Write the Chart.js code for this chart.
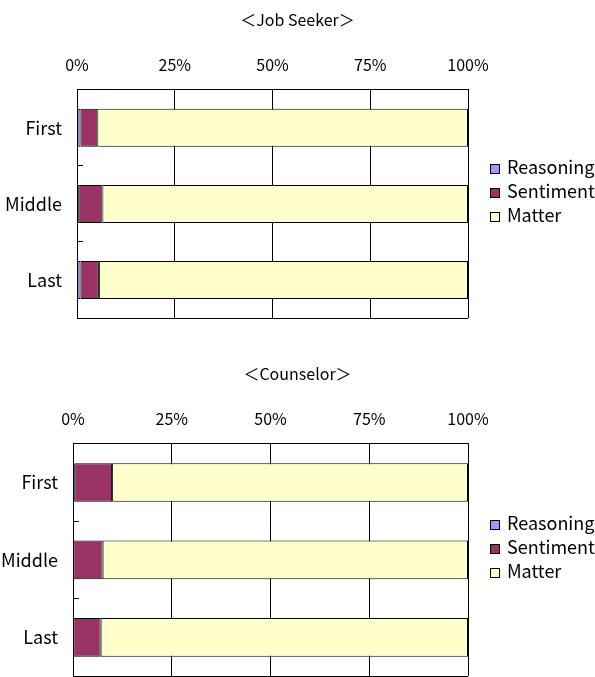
<!DOCTYPE html>
<html>
<head>
<meta charset="utf-8">
<script src="https://cdn.jsdelivr.net/npm/chart.js@4.4.1/dist/chart.umd.min.js"></script>
<style>
    html, body { margin: 0; padding: 0; background: #fff; overflow: hidden; width: 595px; height: 677px; }
    canvas { position: absolute; left: 0; }
    #seekerChart { top: 0; }
    #counselorChart { top: 354px; }
    .legend {
        position: absolute;
        left: 490px;
        font-family: "Noto Sans CJK JP", "Noto Sans", sans-serif;
        font-size: 18px;
        line-height: 24px;
        color: #000;
        white-space: nowrap;
    }
    .legend .box {
        display: inline-block;
        width: 10px;
        height: 10px;
        box-sizing: border-box;
        border: 1px solid #000;
        margin-right: 7px;
        vertical-align: 0px;
    }
    #seekerLegend { top: 154px; }
    #counselorLegend { top: 510px; }
</style>
</head>
<body>
<canvas id="seekerChart" width="595" height="340"></canvas>
<canvas id="counselorChart" width="595" height="336"></canvas>
<div class="legend" id="seekerLegend"></div>
<div class="legend" id="counselorLegend"></div>
<script>
// share of each utterance type (%) per interview stage
const categories = ['First', 'Middle', 'Last'];
const seriesNames = ['Reasoning', 'Sentiment', 'Matter'];
const seriesColors = ['#9999ff', '#993366', '#ffffcc'];

const seekerReasoning = [0.9, 0.3, 0.9];
const seekerSentiment = [4.3, 6.2, 4.7];
const seekerMatter = [94.8, 93.5, 94.4];

const counselorReasoning = [0.3, 0.1, 0.1];
const counselorSentiment = [9.6, 7.4, 6.9];
const counselorMatter = [90.1, 92.5, 93.0];

const percentTicks = [0, 25, 50, 75, 100];

const FONT = '"Noto Sans CJK JP", "Noto Sans", sans-serif';
Chart.defaults.font.family = FONT;
Chart.defaults.font.size = 16;
Chart.defaults.color = '#000';

// room on the right of the plot for the html legend
const LEGEND_ROOM = 127;

function makeChart(id, title, values, opts) {
    const datasets = seriesNames.map(function(name, i) {
        return {
            label: name,
            data: values[i],
            backgroundColor: seriesColors[i],
            borderColor: '#000',
            borderWidth: 1,
            borderSkipped: false,
            barPercentage: 0.5,
            categoryPercentage: 1.0
        };
    });

    return new Chart(document.getElementById(id), {
        type: 'bar',
        data: { labels: categories, datasets: datasets },
        options: {
            indexAxis: 'y',
            responsive: false,
            animation: false,
            layout: { padding: { left: 0, top: 0, right: 0, bottom: opts.bottomPad } },
            scales: {
                x: {
                    position: 'top',
                    stacked: true,
                    min: 0,
                    max: 100,
                    afterBuildTicks: function(scale) {
                        scale.ticks = percentTicks.map(function(v) { return { value: v }; });
                    },
                    ticks: {
                        padding: 15,
                        callback: function(v) { return v + '%'; }
                    },
                    grid: { color: '#000', drawTicks: false },
                    border: { color: '#000' }
                },
                y: {
                    stacked: true,
                    afterFit: function(scale) {
                        scale.width = opts.plotLeft;
                        scale.paddingTop = 0;
                        scale.paddingBottom = 0;
                    },
                    ticks: { padding: 21, font: { size: 18 } },
                    grid: {
                        offset: true,
                        tickLength: -6,
                        tickColor: '#000',
                        // only the outer edges are drawn across, inner ones stay as tick marks
                        color: function(ctx) {
                            return (ctx.type === 'tick' && ctx.index > 0) ? 'rgba(0,0,0,0)' : '#000';
                        }
                    },
                    border: { color: '#000' }
                },
                legendRoom: {
                    type: 'linear',
                    position: 'right',
                    display: true,
                    ticks: { display: false },
                    grid: { display: false },
                    border: { display: false },
                    afterFit: function(scale) { scale.width = LEGEND_ROOM; }
                }
            },
            plugins: {
                title: {
                    display: true,
                    text: title,
                    font: { size: 16, weight: 'normal' },
                    padding: { top: 10, bottom: 11.4 }
                },
                legend: { display: false },
                tooltip: { enabled: false }
            }
        }
    });
}

function htmlLegend(chart, id) {
    const items = Chart.defaults.plugins.legend.labels.generateLabels(chart);
    const box = document.getElementById(id);
    items.forEach(function(item) {
        const row = document.createElement('div');
        const swatch = document.createElement('span');
        swatch.className = 'box';
        swatch.style.background = item.fillStyle;
        row.appendChild(swatch);
        row.appendChild(document.createTextNode(item.text));
        box.appendChild(row);
    });
}

const seeker = makeChart('seekerChart', '＜Job Seeker＞',
    [seekerReasoning, seekerSentiment, seekerMatter],
    { bottomPad: 22, plotLeft: 77 });
htmlLegend(seeker, 'seekerLegend');

const counselor = makeChart('counselorChart', '＜Counselor＞',
    [counselorReasoning, counselorSentiment, counselorMatter],
    { bottomPad: 14, plotLeft: 73 });
htmlLegend(counselor, 'counselorLegend');
</script>
</body>
</html>
